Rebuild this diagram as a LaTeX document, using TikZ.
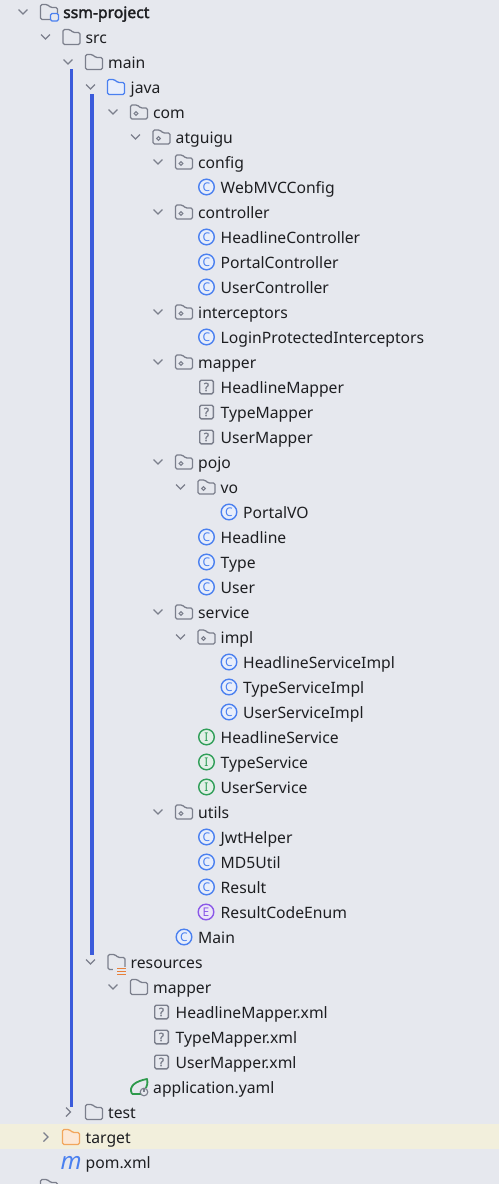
\documentclass[tikz,border=0pt]{standalone}
\usepackage{fontspec}
\setmainfont{Noto Sans}
\newfontfamily\rootfont{Noto Sans}[FakeBold=2.2]
\usepackage{xcolor}
\definecolor{panelbg}{HTML}{E6E8EE}
\definecolor{rowhl}{HTML}{F2EFDC}
\definecolor{inktxt}{HTML}{1E1F22}
\definecolor{iconline}{HTML}{7B7F8C}
\definecolor{barblue}{HTML}{3B5BDB}
\definecolor{clsblue}{HTML}{4A80F0}
\definecolor{clsfill}{HTML}{E8EEFB}
\definecolor{itfgreen}{HTML}{2F9E58}
\definecolor{itffill}{HTML}{E3F0E8}
\definecolor{enumviolet}{HTML}{8A58E8}
\definecolor{enumfill}{HTML}{ECE6F8}
\definecolor{tgtorange}{HTML}{F2A65C}
\definecolor{tgtfill}{HTML}{FCE8D6}
\definecolor{resorange}{HTML}{E8803A}
\definecolor{springgreen}{HTML}{2E9A4C}
\begin{document}
\begin{tikzpicture}[x=1pt, y=-1pt,
  lbl/.style    = {anchor=base west, inner sep=0pt, text=inktxt, font=\fontsize{15.7}{18}\selectfont},
  cls/.style    = {circle, draw=clsblue, fill=clsfill, line width=1.4pt, minimum size=15.6pt, inner sep=0pt,
                   text=clsblue, font=\fontsize{12}{12}\selectfont},
  itf/.style    = {cls, draw=itfgreen, fill=itffill, text=itfgreen},
  enm/.style    = {cls, draw=enumviolet, fill=enumfill, text=enumviolet},
  unk/.style    = {draw=iconline, fill=panelbg, rounded corners=1.5pt, line width=1.4pt, minimum size=13.6pt,
                   inner sep=0pt, text=iconline, font=\rootfont\fontsize{11.5}{11.5}\selectfont},
  chevd/.pic    = {\draw[iconline, line width=1.2pt] (-4.5,-2.5) -- (0,2) -- (4.5,-2.5);},
  chevr/.pic    = {\draw[iconline, line width=1.2pt] (-2,-4.5) -- (2.5,0) -- (-2,4.5);},
  pics/folder/.style 2 args = {code={\draw[#1, fill=#2, line width=1.3pt, rounded corners=1.5pt]
                   (-8.5,7.5) -- (-8.5,-7.5) -- (-1.5,-7.5) -- (1.5,-4.5) -- (8.5,-4.5) -- (8.5,7.5) -- cycle;}},
  pkg/.pic      = {\draw[iconline, line width=1.3pt, rounded corners=1.5pt]
                   (-8.5,7) -- (-8.5,-7) -- (-1.5,-7) -- (1.5,-4) -- (8.5,-4) -- (8.5,7) -- cycle;
                   \draw[iconline, line width=1pt] (-3,1.5) circle (1.9);}
]
\useasboundingbox (0,0) rectangle (499,1184);
\fill[panelbg] (0,0) rectangle (499,1184);
\fill[rowhl] (0,1124) rectangle (499,1149);

% --- bars beside main and java ---
\fill[barblue] (70,69) rectangle (73,1107);
\fill[barblue] (90,94) rectangle (94,955);

% --- open arrows: level/row ---
\foreach \l/\r in {0/0,1/1,2/2,3/3,4/4,5/5,6/6,6/8,6/12,6/14,6/18,7/19,6/24,7/25,6/32,3/38,4/39,0/47} {
  \pic at (23+22.5*\l,12+25*\r) {chevd};
}
% --- closed arrows ---
\foreach \l/\r in {2/44,1/45} { \pic at (23+22.5*\l,12+25*\r) {chevr}; }

% --- folders ---
\foreach \l/\r in {0/0,1/1,2/2,3/38,4/39,2/44,0/47} { \pic at (49+22.5*\l,12+25*\r) {folder={iconline}{panelbg}}; }
\pic at (116,87) {folder={clsblue}{clsfill}};
\pic at (71,1137) {folder={tgtorange}{tgtfill}};
\draw[clsblue, fill=panelbg, line width=1.3pt, rounded corners=1.5pt] (50.5,13.5) rectangle (58.5,21);
\fill[panelbg] (113,967) rectangle (127,976);
\foreach \y in {968.5,971.5,974.5} { \draw[resorange, line width=1.8pt] (117,\y) -- (126,\y); }

% --- packages ---
\foreach \l/\r in {4/4,5/5,6/6,6/8,6/12,6/14,6/18,7/19,6/24,7/25,6/32} { \pic at (49+22.5*\l,12+25*\r) {pkg}; }

% --- class, interface, enum and unknown icons ---
\foreach \l/\r in {7/7,7/9,7/10,7/11,7/13,8/20,7/21,7/22,7/23,8/26,8/27,8/28,7/33,7/34,7/35,6/37} {
  \node[cls] (i\r) at (49+22.5*\l,12+25*\r) {C};
}
\foreach \l/\r in {7/29,7/30,7/31} { \node[itf] (i\r) at (49+22.5*\l,12+25*\r) {I}; }
\node[enm] (i36) at (206,912) {E};
\foreach \l/\r in {7/15,7/16,7/17,5/40,5/41,5/42} { \node[unk] (i\r) at (49+22.5*\l,12+25*\r) {?}; }

% --- spring leaf and maven ---
\draw[springgreen, line width=1.8pt, line join=round] (132,1094) .. controls (128,1086) and (136,1081) .. (147,1079)
  .. controls (148,1083) and (147,1086) .. (146,1088);
\draw[springgreen, line width=1.8pt] (132,1094) -- (141,1094);
\draw[iconline, line width=1.1pt] (144,1092) circle (3.8);
\draw[iconline, line width=1.1pt] (144,1087.5) -- (144,1092);
\node[anchor=base, inner sep=0pt, text=clsblue, font=\fontsize{24}{24}\itshape\selectfont] (i46) at (71,1169) {m};

% --- labels: level/row/text ---
\node[lbl, font=\rootfont\fontsize{15.7}{18}\selectfont] (t0) at (63,18) {ssm-project};
\foreach \l/\r/\t in {1/1/src,2/2/main,3/3/java,4/4/com,5/5/atguigu,6/6/config,7/7/WebMVCConfig,
  6/8/controller,7/9/HeadlineController,7/10/PortalController,7/11/UserController,
  6/12/interceptors,7/13/LoginProtectedInterceptors,6/14/mapper,
  7/15/HeadlineMapper,7/16/TypeMapper,7/17/UserMapper,6/18/pojo,7/19/vo,8/20/PortalVO,
  7/21/Headline,7/22/Type,7/23/User,6/24/service,7/25/impl,
  8/26/HeadlineServiceImpl,8/27/TypeServiceImpl,8/28/UserServiceImpl,
  7/29/HeadlineService,7/30/TypeService,7/31/UserService,6/32/utils,
  7/33/JwtHelper,7/34/MD5Util,7/35/Result,7/36/ResultCodeEnum,6/37/Main,
  3/38/resources,4/39/mapper,5/40/HeadlineMapper.xml,5/41/TypeMapper.xml,5/42/UserMapper.xml,
  4/43/application.yaml,2/44/test,1/45/target,1/46/pom.xml} {
  \node[lbl] (t\r) at (63+22.5*\l,18+25*\r) {\t};
}
\end{tikzpicture}
\end{document}
